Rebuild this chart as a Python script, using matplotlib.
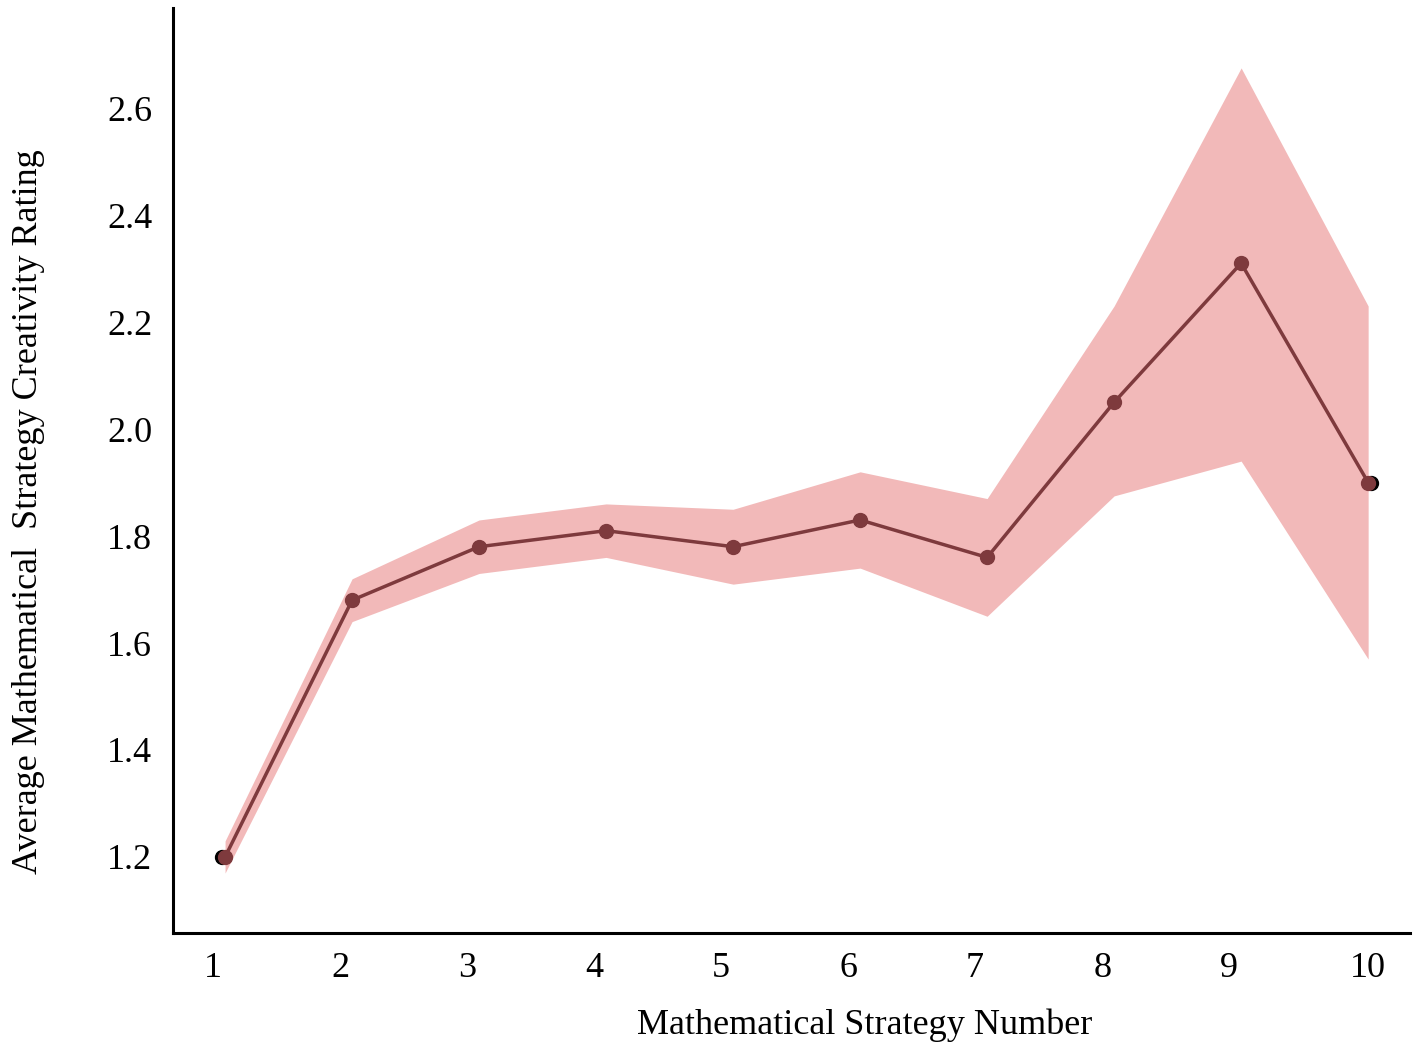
import matplotlib
matplotlib.use("Agg")
import matplotlib.pyplot as plt
from matplotlib.transforms import offset_copy, ScaledTranslation

strategy = [1, 2, 3, 4, 5, 6, 7, 8, 9, 10]
mean_rating = [1.20, 1.68, 1.78, 1.81, 1.78, 1.83, 1.76, 2.05, 2.31, 1.90]
upper = [1.23, 1.72, 1.83, 1.86, 1.85, 1.92, 1.87, 2.23, 2.675, 2.23]
lower = [1.17, 1.64, 1.73, 1.76, 1.71, 1.74, 1.65, 1.875, 1.94, 1.57]
y_ticks = [1.2, 1.4, 1.6, 1.8, 2.0, 2.2, 2.4, 2.6]

plt.rcParams.update({"font.family": ["Liberation Serif", "DejaVu Serif"], "font.size": 26})

fig = plt.figure(figsize=(14.18, 10.53), dpi=100)
ax = fig.add_axes([0.122, 0.114, 0.8724, 0.8784])

ax.fill_between(strategy, lower, upper, color="#f2b9b9", linewidth=0, zorder=1)
# black end dots peeking out behind the red ones
ends_x = [strategy[0], strategy[-1]]
ends_y = [mean_rating[0], mean_rating[-1]]
for dx, x, y in zip([-3, 3], ends_x, ends_y):
    tr = offset_copy(ax.transData, fig=fig, x=dx, y=0, units="dots")
    ax.plot([x], [y], "o", color="black", markersize=10, transform=tr, zorder=2)
ax.plot(strategy, mean_rating, "-o", color="#7e3a3d", linewidth=2.5, markersize=10, zorder=3)

ax.set_xlim(0.59, 10.33)
ax.set_ylim(1.058, 2.787)
ax.set_xticks(strategy)
ax.set_yticks(y_ticks)
ax.set_yticklabels([f"{v:.1f}" for v in y_ticks])
ax.tick_params(length=0)
ax.tick_params(axis="x", pad=14)
ax.tick_params(axis="y", pad=15)

# the original's x tick labels sit a little left of the points (all but the last)
shift = ScaledTranslation(-0.12, 0, fig.dpi_scale_trans)
for lbl in ax.get_xticklabels()[:-1]:
    lbl.set_transform(lbl.get_transform() + shift)

for side in ["top", "right"]:
    ax.spines[side].set_visible(False)
for side in ["left", "bottom"]:
    ax.spines[side].set_linewidth(2.2)

ax.set_xlabel("Mathematical Strategy Number", va="center")
ax.xaxis.set_label_coords(0.559, -0.0995)
ax.set_ylabel("Average Mathematical  Strategy Creativity Rating", va="center")
ax.yaxis.set_label_coords(-0.117, 0.456)

fig.savefig("out.png", dpi=100)
